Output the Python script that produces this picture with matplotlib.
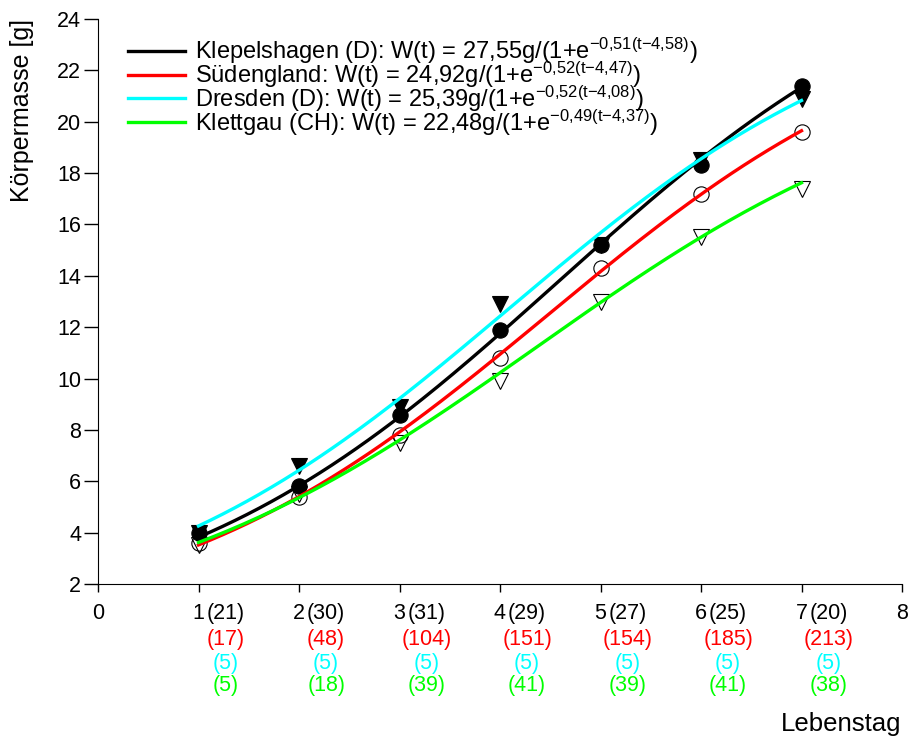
import numpy as np
import matplotlib
matplotlib.use('Agg')
import matplotlib.pyplot as plt
from matplotlib.transforms import blended_transform_factory

plt.rcParams['font.family'] = ['Liberation Sans', 'DejaVu Sans']
plt.rcParams['mathtext.fontset'] = 'custom'
plt.rcParams['mathtext.rm'] = 'Liberation Sans'
plt.rcParams['mathtext.it'] = 'Liberation Sans'
plt.rcParams['mathtext.bf'] = 'Liberation Sans:bold'

# --- data ---
days = [1, 2, 3, 4, 5, 6, 7]
names = ['Klepelshagen (D)', 'Südengland', 'Dresden (D)', 'Klettgau (CH)']
klep = [4.0, 5.8, 8.6, 11.9, 15.2, 18.3, 21.4]
sued = [3.6, 5.4, 7.8, 10.8, 14.3, 17.2, 19.6]
dresden = [4.0, 6.6, 8.9, 12.9, 15.2, 18.5, 20.9]
klettgau = [3.5, 5.5, 7.5, 9.9, 13.0, 15.5, 17.4]

# logistic fit parameters (from legend)
w_max = [27.55, 24.92, 25.39, 22.48]
rate = [0.51, 0.52, 0.52, 0.49]
t_mid = [4.58, 4.47, 4.08, 4.37]

# sample sizes per day
n_klep = [21, 30, 31, 29, 27, 25, 20]
n_sued = [17, 48, 104, 151, 154, 185, 213]
n_dres = [5, 5, 5, 5, 5, 5, 5]
n_klett = [5, 18, 39, 41, 39, 41, 38]

colors = ['black', '#ff0000', '#00ffff', '#00ff00']
series = [klep, sued, dresden, klettgau]
counts = [n_klep, n_sued, n_dres, n_klett]
# marker, face colour
markers = [('o', 'black'), ('o', 'none'), ('v', 'black'), ('v', 'none')]

W, H = 909, 740
fig = plt.figure(figsize=(W / 100, H / 100), dpi=100)
ax = fig.add_axes([98 / W, 156 / H, 804 / W, 565 / H])


def fmt(v):
    return f"{v:.2f}".replace('.', ',')


tt = np.linspace(1, 7, 200)
for i in range(4):
    expo = '-' + fmt(rate[i]).replace(',', '{,}') + '(t{-}' + fmt(t_mid[i]).replace(',', '{,}') + ')'
    label = names[i] + ': W(t) = ' + fmt(w_max[i]) + 'g/(1+e$^{' + expo + '}$)'
    curve = w_max[i] / (1 + np.exp(-rate[i] * (tt - t_mid[i])))
    ax.plot(tt, curve, color=colors[i], lw=2.4, zorder=3, label=label)
    m, fc = markers[i]
    ax.plot(days, series[i], ls='none', marker=m, ms=11, mfc=fc, mec='black',
            mew=0.8, zorder=2)

ax.set_xlim(0, 8)
ax.set_ylim(2, 24)
ax.set_xticks(range(0, 9))
ax.set_yticks(range(2, 25, 2))
ax.spines['top'].set_visible(False)
ax.spines['right'].set_visible(False)
ax.tick_params(direction='out', width=1, labelsize=15.5)
ax.tick_params(axis='x', length=6, pad=8)
ax.tick_params(axis='y', length=10, pad=2)

leg = ax.legend(loc='upper left', bbox_to_anchor=(128 / W, 1 - 36 / H),
                bbox_transform=fig.transFigure, frameon=False, fontsize=17,
                handlelength=2.4, handletextpad=0.45, labelspacing=-0.27,
                borderpad=0, borderaxespad=0)

# sample sizes below the x axis
tr = blended_transform_factory(ax.transData, fig.transFigure)
row_y = [614, 639, 663, 686]
for cnt, col, py in zip(counts, colors, row_y):
    for d, n in zip(days, cnt):
        ax.text(d + 0.27, 1 - py / H, f"({n})", color=col, ha='center',
                va='center', fontsize=15.5, transform=tr)

fig.text(22 / W, 1 - 110 / H, 'Körpermasse [g]', rotation=90, ha='center',
         va='center', fontsize=18)
fig.text(901 / W, 1 - 724 / H, 'Lebenstag', ha='right', va='center', fontsize=18.5)

fig.savefig('out.png', dpi=100)
